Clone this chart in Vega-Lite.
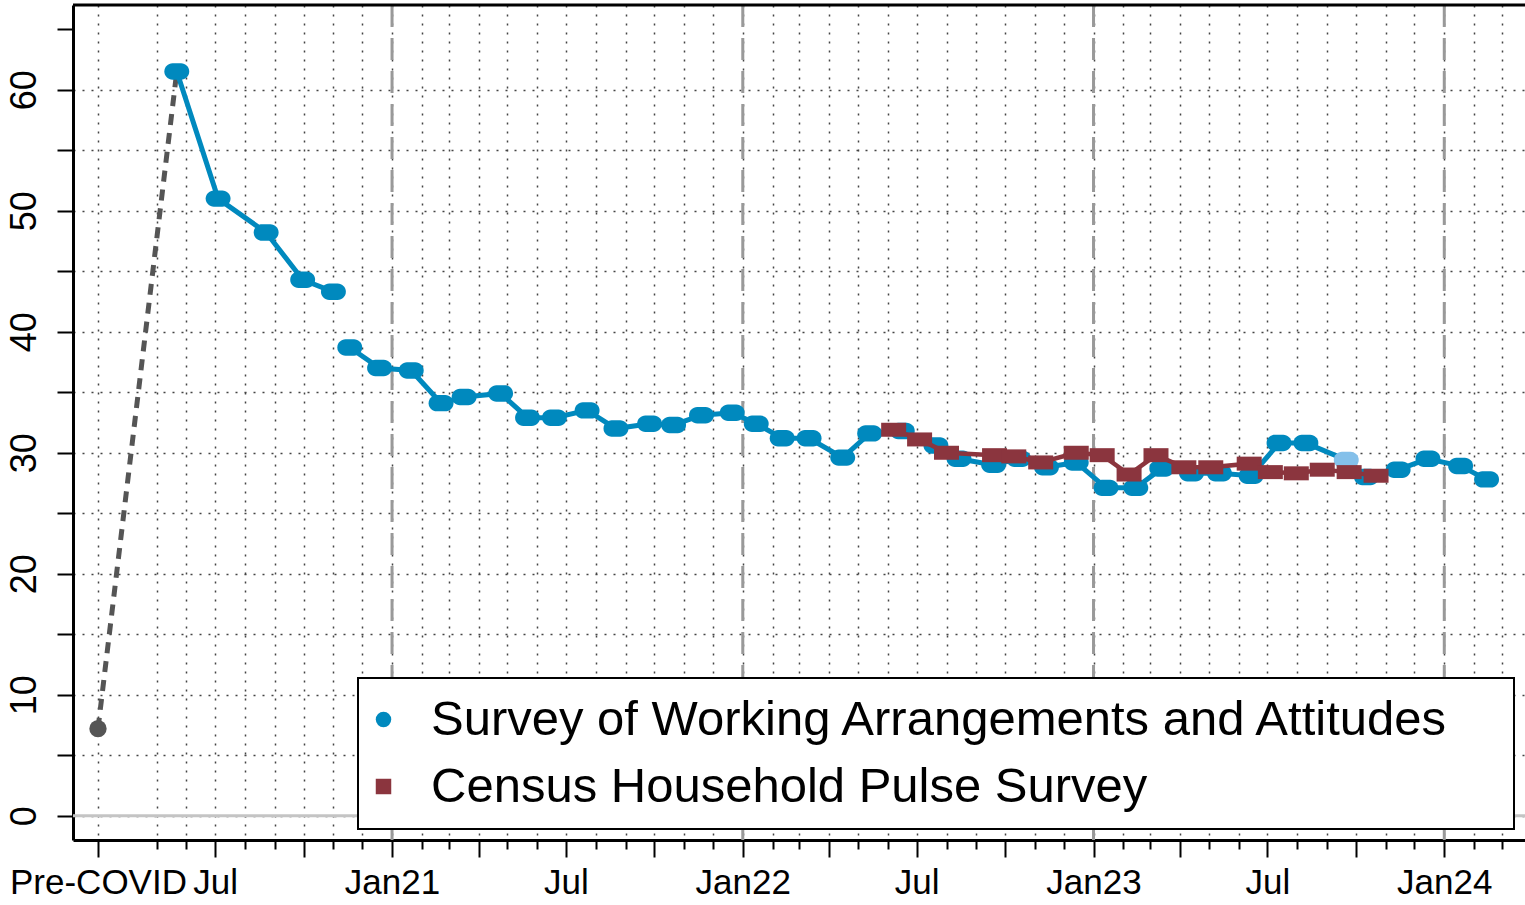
{
  "$schema": "https://vega.github.io/schema/vega-lite/v6.json",
  "width": 1452,
  "height": 835,
  "autosize": {"type": "none"},
  "padding": {"left": 73, "top": 5, "right": 0, "bottom": 65},
  "background": "white",
  "config": {
    "font": "Liberation Sans",
    "view": {"stroke": null},
    "legend": {"strokeWidth": 2}
  },
  "datasets": {
    "swaa": [
      {"date": "2020-05-22", "value": 61.5, "seg": "a", "flag": "n"},
      {"date": "2020-07-04", "value": 51.0, "seg": "a", "flag": "n"},
      {"date": "2020-08-23", "value": 48.2, "seg": "a", "flag": "n"},
      {"date": "2020-09-30", "value": 44.3, "seg": "a", "flag": "n"},
      {"date": "2020-11-01", "value": 43.3, "seg": "a", "flag": "n"},
      {"date": "2020-11-18", "value": 38.7, "seg": "b", "flag": "n"},
      {"date": "2020-12-19", "value": 37.0, "seg": "b", "flag": "n"},
      {"date": "2021-01-21", "value": 36.8, "seg": "b", "flag": "n"},
      {"date": "2021-02-21", "value": 34.1, "seg": "b", "flag": "n"},
      {"date": "2021-03-17", "value": 34.6, "seg": "b", "flag": "n"},
      {"date": "2021-04-24", "value": 34.9, "seg": "b", "flag": "n"},
      {"date": "2021-05-22", "value": 32.9, "seg": "b", "flag": "n"},
      {"date": "2021-06-19", "value": 32.9, "seg": "b", "flag": "n"},
      {"date": "2021-07-23", "value": 33.5, "seg": "b", "flag": "n"},
      {"date": "2021-08-22", "value": 32.0, "seg": "b", "flag": "n"},
      {"date": "2021-09-26", "value": 32.4, "seg": "b", "flag": "n"},
      {"date": "2021-10-21", "value": 32.3, "seg": "b", "flag": "n"},
      {"date": "2021-11-19", "value": 33.1, "seg": "b", "flag": "n"},
      {"date": "2021-12-21", "value": 33.3, "seg": "b", "flag": "n"},
      {"date": "2022-01-15", "value": 32.4, "seg": "b", "flag": "n"},
      {"date": "2022-02-11", "value": 31.2, "seg": "b", "flag": "n"},
      {"date": "2022-03-11", "value": 31.2, "seg": "b", "flag": "n"},
      {"date": "2022-04-15", "value": 29.6, "seg": "b", "flag": "n"},
      {"date": "2022-05-13", "value": 31.6, "seg": "b", "flag": "n"},
      {"date": "2022-06-16", "value": 31.8, "seg": "b", "flag": "n"},
      {"date": "2022-07-21", "value": 30.6, "seg": "b", "flag": "n"},
      {"date": "2022-08-14", "value": 29.5, "seg": "b", "flag": "n"},
      {"date": "2022-09-19", "value": 29.0, "seg": "b", "flag": "n"},
      {"date": "2022-10-15", "value": 29.5, "seg": "b", "flag": "n"},
      {"date": "2022-11-13", "value": 28.8, "seg": "b", "flag": "n"},
      {"date": "2022-12-14", "value": 29.2, "seg": "b", "flag": "n"},
      {"date": "2023-01-14", "value": 27.1, "seg": "b", "flag": "n"},
      {"date": "2023-02-14", "value": 27.1, "seg": "b", "flag": "n"},
      {"date": "2023-03-13", "value": 28.7, "seg": "b", "flag": "n"},
      {"date": "2023-04-13", "value": 28.3, "seg": "b", "flag": "n"},
      {"date": "2023-05-12", "value": 28.3, "seg": "b", "flag": "n"},
      {"date": "2023-06-14", "value": 28.1, "seg": "b", "flag": "n"},
      {"date": "2023-07-13", "value": 30.8, "seg": "b", "flag": "n"},
      {"date": "2023-08-10", "value": 30.8, "seg": "b", "flag": "n"},
      {"date": "2023-09-21", "value": 29.4, "seg": "b", "flag": "light"},
      {"date": "2023-10-12", "value": 28.0, "seg": "b", "flag": "n"},
      {"date": "2023-11-14", "value": 28.6, "seg": "b", "flag": "n"},
      {"date": "2023-12-15", "value": 29.5, "seg": "b", "flag": "n"},
      {"date": "2024-01-18", "value": 28.9, "seg": "b", "flag": "n"},
      {"date": "2024-02-14", "value": 27.8, "seg": "b", "flag": "n"}
    ],
    "census": [
      {"date": "2022-06-07", "value": 31.9},
      {"date": "2022-07-04", "value": 31.1},
      {"date": "2022-08-01", "value": 30.0},
      {"date": "2022-09-20", "value": 29.8},
      {"date": "2022-10-10", "value": 29.7},
      {"date": "2022-11-07", "value": 29.2},
      {"date": "2022-12-14", "value": 30.0},
      {"date": "2023-01-10", "value": 29.8},
      {"date": "2023-02-07", "value": 28.2},
      {"date": "2023-03-07", "value": 29.8},
      {"date": "2023-04-05", "value": 28.8},
      {"date": "2023-05-03", "value": 28.8},
      {"date": "2023-06-12", "value": 29.1},
      {"date": "2023-07-04", "value": 28.4},
      {"date": "2023-07-31", "value": 28.3},
      {"date": "2023-08-27", "value": 28.6},
      {"date": "2023-09-24", "value": 28.4},
      {"date": "2023-10-22", "value": 28.1}
    ],
    "pre": [
      {"date": "2020-03-01", "value": 7.2, "kind": "pre"},
      {"date": "2020-05-22", "value": 61.5, "kind": "first"}
    ],
    "jan": [
      {"date": "2021-01-01"},
      {"date": "2022-01-01"},
      {"date": "2023-01-01"},
      {"date": "2024-01-01"}
    ],
    "base": [{"v": 0}],
    "legend": [
      {"series": "Survey of Working Arrangements and Attitudes"},
      {"series": "Census Household Pulse Survey"}
    ]
  },
  "layer": [
    {
      "data": {"name": "jan"},
      "mark": {"type": "rule", "color": "#999999", "strokeWidth": 3, "strokeDash": [22, 11]},
      "encoding": {
        "x": {
          "field": "date",
          "type": "temporal",
          "scale": {
            "type": "utc",
            "domain": [
              {"year": 2020, "month": 2, "date": 4, "utc": true},
              {"year": 2024, "month": 3, "date": 25, "utc": true}
            ]
          },
          "axis": {
            "title": null,
            "tickCount": {"interval": "month", "step": 1},
            "labelExpr": "utcmonth(datum.value) == 0 ? 'Jan' + utcFormat(datum.value, '%y') : (utcmonth(datum.value) == 6 ? 'Jul' : ((utcyear(datum.value) == 2020 && utcmonth(datum.value) == 2) ? 'Pre-COVID' : ''))",
            "labelOverlap": false,
            "labelFlush": false,
            "labelBound": false,
            "labelFontSize": 35,
            "labelColor": "black",
            "labelPadding": 8,
            "tickColor": "black",
            "tickWidth": 2,
            "tickSize": {"condition": {"test": "utcmonth(datum.value) % 3 == 0 || (utcyear(datum.value) == 2020 && utcmonth(datum.value) == 2)", "value": 17}, "value": 9},
            "tickOpacity": {"condition": {"test": "utcyear(datum.value) == 2020 && utcmonth(datum.value) == 3", "value": 0}, "value": 1},
            "grid": true,
            "gridColor": "#444444",
            "gridWidth": 1.5,
            "gridDash": [2, 7],
            "gridOpacity": {"condition": {"test": "utcyear(datum.value) == 2020 && utcmonth(datum.value) == 3", "value": 0}, "value": 1},
            "domain": true,
            "domainColor": "black",
            "domainWidth": 3
          }
        }
      }
    },
    {
      "data": {"name": "base"},
      "mark": {"type": "rule", "color": "#c4c4c4", "strokeWidth": 3},
      "encoding": {
        "y": {
          "field": "v",
          "type": "quantitative",
          "scale": {"domain": [-2, 67], "nice": false, "zero": false},
          "axis": {
            "title": null,
            "values": [0, 5, 10, 15, 20, 25, 30, 35, 40, 45, 50, 55, 60, 65],
            "labelExpr": "datum.value % 10 == 0 ? datum.label : ''",
            "labelAngle": -90,
            "labelFontSize": 36,
            "labelColor": "black",
            "labelPadding": 14,
            "tickColor": "black",
            "tickWidth": 2,
            "tickSize": 16,
            "grid": true,
            "gridColor": "#444444",
            "gridWidth": 1.5,
            "gridDash": [2, 7],
            "gridOpacity": {"condition": {"test": "datum.value > 62", "value": 0}, "value": 1},
            "domain": true,
            "domainColor": "black",
            "domainWidth": 3
          }
        }
      }
    },
    {
      "data": {"values": [{}]},
      "mark": {"type": "rule", "color": "black", "strokeWidth": 3},
      "encoding": {
        "y": {"datum": 67, "type": "quantitative"}
      }
    },
    {
      "data": {"name": "pre"},
      "mark": {"type": "line", "color": "#555555", "strokeWidth": 5, "strokeDash": [11, 8]},
      "encoding": {
        "x": {"field": "date", "type": "temporal"},
        "y": {"field": "value", "type": "quantitative"}
      }
    },
    {
      "data": {"name": "swaa"},
      "mark": {"type": "line", "color": "#0089be", "strokeWidth": 5},
      "encoding": {
        "x": {"field": "date", "type": "temporal"},
        "y": {"field": "value", "type": "quantitative"},
        "detail": {"field": "seg"}
      }
    },
    {
      "data": {"name": "swaa"},
      "mark": {"type": "point", "filled": true, "opacity": 1, "size": 620, "strokeWidth": 0,
        "shape": "M -0.34 -0.66 L 0.34 -0.66 A 0.66 0.66 0 0 1 0.34 0.66 L -0.34 0.66 A 0.66 0.66 0 0 1 -0.34 -0.66 Z"},
      "encoding": {
        "x": {"field": "date", "type": "temporal"},
        "y": {"field": "value", "type": "quantitative"},
        "color": {"condition": {"test": "datum.flag == 'light'", "value": "#84c0ea"}, "value": "#0089be"}
      }
    },
    {
      "data": {"name": "census"},
      "mark": {"type": "line", "color": "#8b353e", "strokeWidth": 4.5},
      "encoding": {
        "x": {"field": "date", "type": "temporal"},
        "y": {"field": "value", "type": "quantitative"}
      }
    },
    {
      "data": {"name": "census"},
      "mark": {"type": "point", "filled": true, "opacity": 1, "size": 625, "strokeWidth": 0, "color": "#8b353e",
        "shape": "M -1 -0.56 L 1 -0.56 L 1 0.56 L -1 0.56 Z"},
      "encoding": {
        "x": {"field": "date", "type": "temporal"},
        "y": {"field": "value", "type": "quantitative"}
      }
    },
    {
      "data": {"name": "pre"},
      "transform": [{"filter": "datum.kind == 'pre'"}],
      "mark": {"type": "circle", "color": "#555555", "size": 300, "opacity": 1},
      "encoding": {
        "x": {"field": "date", "type": "temporal"},
        "y": {"field": "value", "type": "quantitative"}
      }
    },
    {
      "data": {"name": "legend"},
      "mark": {"type": "point", "filled": true, "opacity": 0},
      "encoding": {
        "color": {
          "field": "series",
          "type": "nominal",
          "scale": {
            "domain": ["Survey of Working Arrangements and Attitudes", "Census Household Pulse Survey"],
            "range": ["#0089be", "#8b353e"]
          },
          "legend": {
            "title": null, "orient": "none", "legendX": 285, "legendY": 673,
            "padding": 17, "strokeColor": "black", "fillColor": "white",
            "labelFontSize": 49, "labelFont": "Liberation Sans", "labelColor": "black",
            "labelLimit": 3000, "labelOffset": 23, "symbolOffset": -16, "rowPadding": 17,
            "symbolSize": 240, "symbolStrokeWidth": 0, "symbolOpacity": 1,
            "labelExpr": "datum.label + '\u00a0\u00a0\u00a0\u200a\u200b'", "zindex": 1
          }
        },
        "shape": {
          "field": "series",
          "type": "nominal",
          "scale": {
            "domain": ["Survey of Working Arrangements and Attitudes", "Census Household Pulse Survey"],
            "range": ["circle", "square"]
          },
          "legend": {
            "title": null, "orient": "none", "legendX": 285, "legendY": 673,
            "padding": 17, "strokeColor": "black", "fillColor": "white",
            "labelFontSize": 49, "labelFont": "Liberation Sans", "labelColor": "black",
            "labelLimit": 3000, "labelOffset": 23, "symbolOffset": -16, "rowPadding": 17,
            "symbolSize": 240, "symbolStrokeWidth": 0, "symbolOpacity": 1,
            "labelExpr": "datum.label + '\u00a0\u00a0\u00a0\u200a\u200b'", "zindex": 1
          }
        }
      }
    }
  ]
}
